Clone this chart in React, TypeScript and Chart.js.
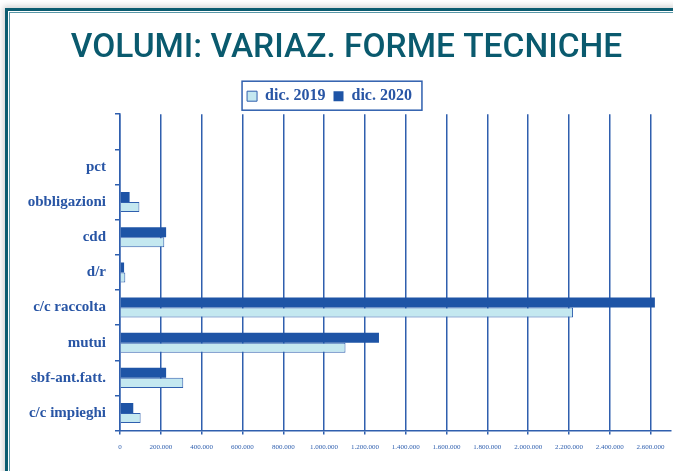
import { useEffect, useRef } from 'react';
import { Chart, registerables } from 'chart.js';

Chart.register(...registerables);

const categories = ['', 'pct', 'obbligazioni', 'cdd', 'd/r', 'c/c raccolta', 'mutui', 'sbf-ant.fatt.', 'c/c impieghi'];
const dic2020 = [0, 0, 47000, 226000, 20000, 2621000, 1269000, 226000, 65000];
const dic2019 = [0, 0, 95000, 217000, 26000, 2220000, 1105000, 310000, 101000];
const seriesLabels = ['dic. 2020', 'dic. 2019'];
const xTickValues = [0, 200000, 400000, 600000, 800000, 1000000, 1200000, 1400000, 1600000, 1800000, 2000000, 2200000, 2400000, 2600000];
const titleText = 'VOLUMI: VARIAZ. FORME TECNICHE';

const BLUE = '#2f5fae';
const DARK = '#1e54a6';
const LIGHT = '#c4e8f0';
const LABEL = '#2855a5';
const TEAL = '#0a5a6e';

const fmt = (v: number) => String(v).replace(/\B(?=(\d{3})+(?!\d))/g, '.');

const framePlugin = {
  id: 'legendFrame',
  afterLayout(chart: any) {
    const t = chart.titleBlock;
    if (t) { t.left += 11; t.right += 11; }
    const l = chart.legend;
    if (l) { l.left -= 6; l.right -= 6; }
  },
  afterDraw(chart: any) {
    const hb = chart.legend?.legendHitBoxes;
    if (!hb || !hb.length) return;
    const ctx = chart.ctx;
    const first = hb[0];
    const last = hb[hb.length - 1];
    const cy = first.top + first.height / 2;
    const x0 = first.left - 5;
    const x1 = last.left + last.width + 10;
    ctx.save();
    ctx.strokeStyle = BLUE;
    ctx.lineWidth = 1.5;
    ctx.strokeRect(x0, cy - 15, x1 - x0, 29);
    ctx.restore();
  },
};

export default function App() {
  const ref = useRef<HTMLCanvasElement>(null);
  useEffect(() => {
    if (!ref.current) return;
    const chart = new Chart(ref.current, {
      type: 'bar',
      data: {
        labels: categories,
        datasets: [
          { label: seriesLabels[0], data: dic2020, backgroundColor: DARK, borderColor: DARK, borderWidth: 0 },
          { label: seriesLabels[1], data: dic2019, backgroundColor: LIGHT, borderColor: BLUE, borderWidth: 1 },
        ],
      },
      options: {
        indexAxis: 'y',
        responsive: false,
        animation: false,
        devicePixelRatio: 1,
        layout: { padding: { top: 0, left: 0, right: 2, bottom: 12 } },
        datasets: { bar: { categoryPercentage: 0.57, barPercentage: 1 } } as any,
        scales: {
          x: {
            min: 0,
            max: 2700000,
            afterBuildTicks: (axis: any) => {
              axis.ticks = xTickValues.map((v) => ({ value: v }));
            },
            grid: { color: BLUE, lineWidth: 1.5, tickLength: 4, drawTicks: true },
            border: { color: BLUE, width: 1.5 },
            ticks: {
              color: BLUE,
              font: { family: '"Liberation Serif", serif', size: 7 },
              padding: 8,
              maxRotation: 0,
              autoSkip: false,
              callback: (v: any) => fmt(Number(v)),
            },
          },
          y: {
            type: 'category',
            afterFit: (scale: any) => { scale.width = 120; },
            grid: { drawOnChartArea: false, drawTicks: true, tickLength: 5, color: BLUE, lineWidth: 1.5, offset: true },
            border: { color: BLUE, width: 1.5 },
            ticks: {
              color: LABEL,
              font: { family: '"Liberation Serif", serif', size: 15, weight: 'bold' },
              padding: 9,
              autoSkip: false,
            },
          },
        },
        plugins: {
          title: {
            display: true,
            text: titleText,
            color: TEAL,
            font: { family: 'Roboto, "Liberation Sans", sans-serif', size: 33.5, weight: '500' },
            padding: { top: 29, bottom: 11 },
          },
          legend: {
            display: true,
            position: 'top',
            reverse: true,
            labels: {
              boxWidth: 10,
              boxHeight: 10,
              padding: 8,
              color: LABEL,
              font: { family: '"Liberation Serif", serif', size: 16, weight: 'bold' },
            },
          },
          tooltip: { enabled: false },
        },
      },
      plugins: [framePlugin],
    } as any);
    return () => chart.destroy();
  }, []);

  return (
    <div style={{ position: 'fixed', left: 0, top: 0, width: 673, height: 471, overflow: 'hidden', background: '#ffffff' }}>
      <div style={{ position: 'absolute', left: 5, top: 8, width: 800, height: 600, border: '3px solid #0b5c70', boxShadow: '0 0 6px 2px rgba(0,0,0,0.18)', background: '#ffffff' }} />
      <div style={{ position: 'absolute', left: 9, top: 12, width: 800, height: 600, border: '1px solid #5a98a8' }} />
      <canvas ref={ref} width={673} height={471} style={{ position: 'absolute', left: 0, top: 0, width: 673, height: 471 }} />
    </div>
  );
}
